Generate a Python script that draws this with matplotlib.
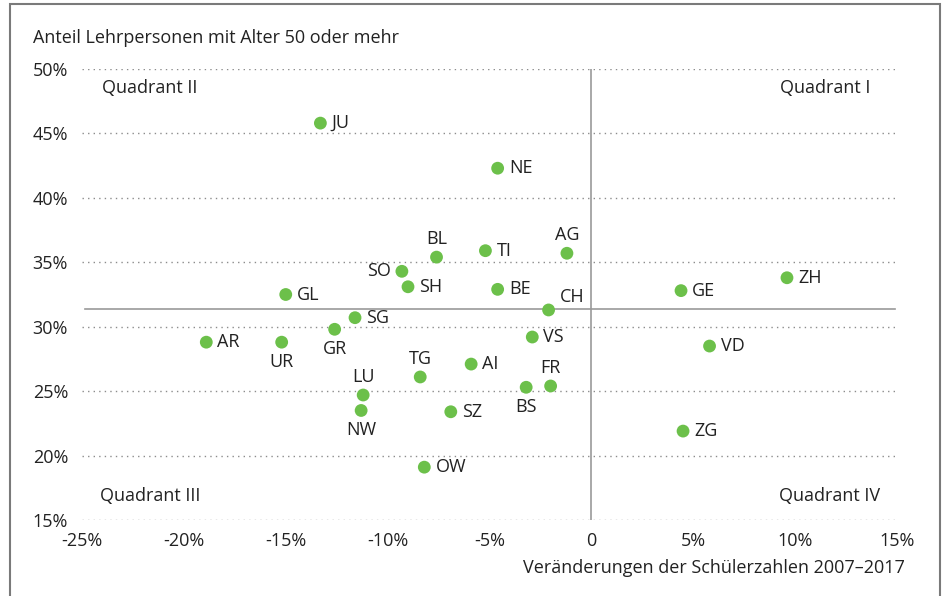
import numpy as np
import matplotlib
matplotlib.use("Agg")
from matplotlib import pyplot as plt
from matplotlib.patches import Rectangle

# Kantone: Veränderung Schülerzahlen 2007-2017 (%) und Anteil Lehrpersonen 50+ (%)
kantone = ['JU', 'NE', 'BL', 'SO', 'SH', 'TI', 'AG', 'BE', 'GE', 'ZH', 'GL', 'SG', 'GR', 'AR',
           'UR', 'TG', 'LU', 'NW', 'SZ', 'OW', 'AI', 'CH', 'VS', 'VD', 'FR', 'BS', 'ZG']
veraenderung = [-13.3, -4.6, -7.6, -9.3, -9.0, -5.2, -1.2, -4.6, 4.4, 9.6, -15.0, -11.6, -12.6, -18.9,
                -15.2, -8.4, -11.2, -11.3, -6.9, -8.2, -5.9, -2.1, -2.9, 5.8, -2.0, -3.2, 4.5]
anteil_50plus = [45.8, 42.3, 35.4, 34.3, 33.1, 35.9, 35.7, 32.9, 32.8, 33.8, 32.5, 30.7, 29.8, 28.8,
                 28.8, 26.1, 24.7, 23.5, 23.4, 19.1, 27.1, 31.3, 29.2, 28.5, 25.4, 25.3, 21.9]
mittel_ch = 31.35

x_ticks = [-25, -20, -15, -10, -5, 0, 5, 10, 15]
x_ticklabels = ['-25%', '-20%', '-15%', '-10%', '-5%', '0', '5%', '10%', '15%']
y_ticks = [15, 20, 25, 30, 35, 40, 45, 50]
y_ticklabels = ['15%', '20%', '25%', '30%', '35%', '40%', '45%', '50%']

# Beschriftungslage (nicht Daten)
oben = ['BL', 'AG', 'TG', 'LU', 'FR']
unten = ['GR', 'UR', 'NW', 'BS']
links = ['SO']

plt.rcParams['font.family'] = ['Open Sans', 'DejaVu Sans']
plt.rcParams['font.size'] = 13
txt = '#222222'
gruen = '#6cc04a'

fig = plt.figure(figsize=(9.45, 5.96), dpi=100)
ax = fig.add_axes([82 / 945, 1 - 520 / 596, (897 - 82) / 945, (520 - 69) / 596])

# Rahmen
fig.patches.append(Rectangle((10 / 945, -0.1), 930 / 945, 1.1 - 4 / 596, transform=fig.transFigure,
                             fill=False, edgecolor='#7a7a7a', linewidth=1.5))

for yv in y_ticks:
    ax.axhline(yv, color='#8c8c8c', linestyle=(0, (1, 3)), linewidth=1.0, zorder=1)
ax.axvline(0, color='#999999', linewidth=1.2, zorder=1)
ax.axhline(mittel_ch, xmin=0.004, xmax=0.998, color='#999999', linewidth=1.2, zorder=1)

ax.scatter(veraenderung, anteil_50plus, s=85, color=gruen, edgecolors='none', zorder=3)

for k, xv, yv in zip(kantone, veraenderung, anteil_50plus):
    if k in oben:
        ax.annotate(k, (xv, yv), xytext=(0, 13), textcoords='offset points', ha='center', va='center', color=txt)
    elif k in unten:
        ax.annotate(k, (xv, yv), xytext=(0, -14), textcoords='offset points', ha='center', va='center', color=txt)
    elif k in links:
        ax.annotate(k, (xv, yv), xytext=(-8, 0), textcoords='offset points', ha='right', va='center', color=txt)
    elif k == 'CH':
        ax.annotate(k, (xv, yv), xytext=(8, 9), textcoords='offset points', ha='left', va='center', color=txt)
    else:
        ax.annotate(k, (xv, yv), xytext=(8, 0), textcoords='offset points', ha='left', va='center', color=txt)

ax.text(-24.0, 48.5, 'Quadrant II', ha='left', va='center', color=txt)
ax.text(13.7, 48.5, 'Quadrant I', ha='right', va='center', color=txt)
ax.text(-24.1, 16.9, 'Quadrant III', ha='left', va='center', color=txt)
ax.text(14.15, 16.9, 'Quadrant IV', ha='right', va='center', color=txt)

ax.set_xlim(-25, 15)
ax.set_ylim(15, 50)
ax.set_xticks(x_ticks)
ax.set_xticklabels(x_ticklabels)
ax.set_yticks(y_ticks)
ax.set_yticklabels(y_ticklabels)
ax.tick_params(length=0, colors=txt, labelsize=13)
ax.tick_params(axis='x', pad=9)
ax.tick_params(axis='y', pad=10)
for s in ax.spines.values():
    s.set_visible(False)

fig.text(33 / 945, 1 - 38 / 596, 'Anteil Lehrpersonen mit Alter 50 oder mehr', ha='left', va='center', color=txt, fontsize=13)
fig.text(905 / 945, 1 - 568 / 596, 'Veränderungen der Schülerzahlen 2007–2017', ha='right', va='center', color=txt, fontsize=13)

fig.savefig('out.png', dpi=100)
